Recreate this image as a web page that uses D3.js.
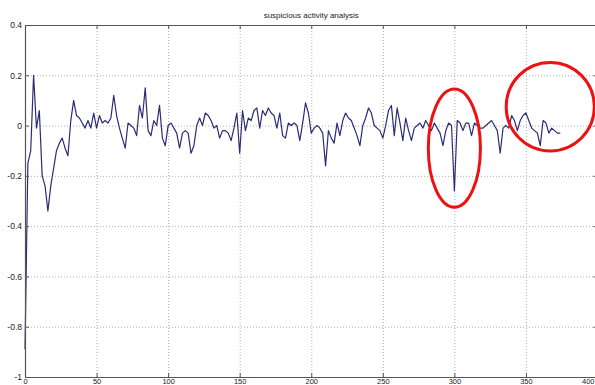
<!DOCTYPE html>
<html>
<head>
<meta charset="utf-8">
<script src="https://cdn.jsdelivr.net/npm/d3@7"></script>
<style>
  html, body { margin: 0; padding: 0; background: #fff; }
  svg { display: block; }
  text { font-family: "Liberation Sans", Arial, sans-serif; }
</style>
</head>
<body>
<svg id="chart" width="595" height="385"></svg>
<script>
// ---- data ----
const title = "suspicious activity analysis";
const xStep = 2; // samples every 2 units along x
const values = [
  -0.89, -0.15, -0.10, 0.20, -0.01, 0.06, -0.20, -0.24, -0.34, -0.24,
  -0.17, -0.10, -0.07, -0.05, -0.09, -0.12, 0.02, 0.10, 0.04, 0.03,
  0.01, -0.01, 0.02, -0.01, 0.05, -0.01, 0.04, 0.01, 0.02, 0.01,
  0.03, 0.12, 0.04, -0.01, -0.05, -0.09, 0.01, 0.00, -0.01, -0.04,
  0.08, 0.03, 0.15, -0.02, -0.04, 0.02, 0.00, 0.08, -0.05, -0.08,
  0.00, 0.01, -0.01, -0.03, -0.09, -0.03, -0.02, -0.03, -0.11, -0.08,
  0.00, 0.03, 0.00, 0.05, 0.04, 0.02, -0.01, 0.00, -0.05, -0.02,
  -0.02, -0.03, -0.06, -0.01, 0.05, -0.11, 0.06, -0.02, 0.03, 0.02,
  0.06, 0.07, -0.01, 0.06, 0.04, 0.07, 0.05, 0.04, -0.01, 0.05,
  -0.04, -0.05, 0.01, 0.00, 0.01, 0.00, -0.06, 0.01, 0.09, 0.05,
  -0.03, -0.01, 0.00, -0.01, -0.03, -0.16, -0.02, -0.05, -0.07, 0.01,
  -0.04, 0.02, 0.05, 0.03, 0.02, -0.01, -0.04, -0.08, 0.00, 0.03,
  0.07, 0.05, 0.00, -0.01, -0.02, -0.05, 0.00, 0.06, 0.08, -0.04,
  0.07, 0.01, -0.06, 0.03, -0.02, -0.06, -0.01, 0.00, 0.01, -0.01,
  0.02, 0.00, -0.02, 0.01, -0.01, -0.03, -0.08, -0.02, 0.01, 0.00,
  -0.26, 0.02, 0.01, -0.02, 0.01, 0.01, -0.04, 0.01, 0.00, -0.01,
  -0.01, 0.00, 0.01, 0.02, 0.00, -0.02, -0.11, -0.01, 0.00, -0.01,
  0.04, 0.02, -0.02, 0.02, 0.04, 0.05, 0.02, -0.01, -0.02, -0.03,
  -0.08, 0.02, 0.01, -0.03, -0.01, -0.02, -0.03, -0.03
];
const xTicks = [0, 50, 100, 150, 200, 250, 300, 350, 400];
const yTicks = [-1, -0.8, -0.6, -0.4, -0.2, 0, 0.2, 0.4];
// annotation ellipses: centre (x, y) and radii in data units
const ellipseCx = [300, 367];
const ellipseCy = [-0.09, 0.075];
const ellipseRx = [18.2, 30.8];
const ellipseRy = [0.235, 0.176];

// ---- layout ----
const svg = d3.select("#chart");
const W = 595;
const L = 25, R = 597.5, T = 25, B = 377;
const x = d3.scaleLinear().domain([0, 400]).range([L, R]);
const y = d3.scaleLinear().domain([-1, 0.4]).range([B, T]);
const fmt = d => String(d);

// grid
const gridV = svg.append("g").attr("transform", `translate(0,${B})`)
  .call(d3.axisBottom(x).tickValues(xTicks).tickSize(-(B - T)).tickFormat(""));
const gridH = svg.append("g").attr("transform", `translate(${L},0)`)
  .call(d3.axisLeft(y).tickValues(yTicks).tickSize(-(R - L)).tickFormat(""));
[gridV, gridH].forEach(g => {
  g.select(".domain").remove();
  g.selectAll("line").attr("stroke", "#b0b0b0").attr("stroke-width", 1)
    .attr("stroke-dasharray", "1,2");
});

// data line
const line = d3.line().x((d, i) => x(i * xStep)).y(d => y(d));
svg.append("path").datum(values)
  .attr("d", line).attr("fill", "none")
  .attr("stroke", "#2c2c76").attr("stroke-width", 1.2)
  .attr("stroke-linejoin", "round");

// box axes
const axisColor = "#555";
function styleAxis(g, fs) {
  g.select(".domain").attr("stroke", axisColor).attr("stroke-width", 1.2);
  g.selectAll(".tick line").attr("stroke", axisColor);
  g.selectAll("text").attr("fill", "#222").attr("font-size", fs)
    .attr("font-family", "Liberation Sans, Arial, sans-serif");
}
const ax = svg.append("g").attr("transform", `translate(0,${B})`)
  .call(d3.axisBottom(x).tickValues(xTicks).tickSizeInner(-4).tickSizeOuter(0).tickPadding(1.5).tickFormat(fmt));
styleAxis(ax, "7.5px");
// keep the last label inside the visible window
ax.selectAll(".tick").filter(d => x(d) + 7 > W).select("text")
  .attr("text-anchor", "end").attr("x", d => W - 1 - x(d));
const axT = svg.append("g").attr("transform", `translate(0,${T})`)
  .call(d3.axisTop(x).tickValues(xTicks).tickSizeInner(-4).tickSizeOuter(0).tickFormat(""));
styleAxis(axT, "8px");
const ay = svg.append("g").attr("transform", `translate(${L},0)`)
  .call(d3.axisLeft(y).tickValues(yTicks).tickSizeInner(-4).tickSizeOuter(0).tickPadding(3).tickFormat(fmt));
styleAxis(ay, "8.5px");
const ayR = svg.append("g").attr("transform", `translate(${R},0)`)
  .call(d3.axisRight(y).tickValues(yTicks).tickSizeInner(-4).tickSizeOuter(0).tickFormat(""));
styleAxis(ayR, "8px");

// title
svg.append("text").attr("x", (L + R) / 2).attr("y", 18)
  .attr("text-anchor", "middle").attr("font-size", "8px").attr("fill", "#222")
  .text(title);

// red annotation ellipses
svg.selectAll("ellipse.note").data(ellipseCx).enter().append("ellipse")
  .attr("class", "note")
  .attr("cx", (d) => x(d))
  .attr("cy", (d, i) => y(ellipseCy[i]))
  .attr("rx", (d, i) => x(ellipseRx[i]) - x(0))
  .attr("ry", (d, i) => y(0) - y(ellipseRy[i]))
  .attr("fill", "none").attr("stroke", "#ee1111").attr("stroke-width", 3);
</script>
</body>
</html>
